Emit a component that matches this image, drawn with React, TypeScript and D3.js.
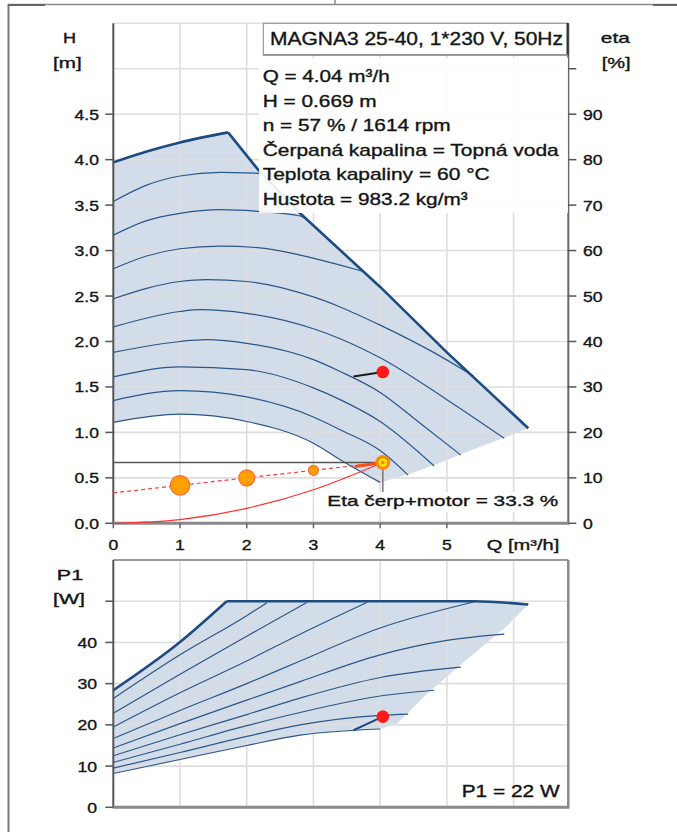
import React from "react";
import * as d3 from "d3";

const W = 677;
const H = 832;

// axis ticks
const qTicks = [0, 1, 2, 3, 4, 5];
const qGrid = [1, 2, 3, 4, 5, 6];
const headTicks = [0, 0.5, 1, 1.5, 2, 2.5, 3, 3.5, 4, 4.5];
const headGrid = [0.5, 1, 1.5, 2, 2.5, 3, 3.5, 4, 4.5, 5, 5.5];
const etaTicks = [0, 10, 20, 30, 40, 50, 60, 70, 80, 90];
const etaMarks = [0, 10, 20, 30, 40, 50, 60, 70, 80, 90, 100];
const powerTicks = [0, 10, 20, 30, 40];
const powerGrid = [10, 20, 30, 40, 50];

// Q-H: maximum curve (speed part and power-limited part)
const maxHeadRise: [number, number][] = [[0, 3.97], [0.5, 4.09], [1, 4.19], [1.72, 4.3]];
const maxHeadLimit: [number, number][] = [[1.72, 4.3], [2.17, 3.89], [2.8, 3.41], [4.0, 2.6], [5.0, 1.88], [6.22, 1.045]];

// Q-H: reduced speed curves
const head1: [number, number][] = [[0, 3.54], [0.5, 3.72], [1, 3.82], [1.6, 3.86], [2.2, 3.85]];
const head2: [number, number][] = [[0, 3.17], [0.5, 3.33], [1, 3.41], [1.6, 3.45], [2.2, 3.43], [2.8, 3.38], [2.92, 3.33]];
const head3: [number, number][] = [[0, 2.8], [0.5, 2.94], [1, 3.02], [1.6, 3.05], [2.2, 3.03], [2.8, 2.95], [3.4, 2.84], [3.75, 2.77]];
const head4: [number, number][] = [[0, 2.47], [1, 2.66], [1.4, 2.68], [2, 2.66], [3, 2.49], [3.4, 2.38], [4, 2.18], [4.8, 1.88], [5.4, 1.62]];
const head5: [number, number][] = [[0, 2.16], [1, 2.33], [1.3, 2.35], [2, 2.31], [3, 2.14], [3.4, 2.03], [4, 1.82], [5, 1.36], [5.86, 0.935]];
const head6: [number, number][] = [[0, 1.88], [1, 2.0], [1.4, 2.02], [2, 1.98], [3, 1.8], [3.4, 1.67], [4, 1.44], [4.6, 1.1], [5.21, 0.75]];
const head7: [number, number][] = [[0, 1.61], [1, 1.72], [2, 1.69], [3, 1.49], [3.4, 1.36], [4, 1.12], [4.81, 0.63]];
const head8: [number, number][] = [[0, 1.35], [1, 1.46], [2, 1.39], [3, 1.17], [3.4, 1.03], [4, 0.8], [4.42, 0.53]];
const head9: [number, number][] = [[0, 1.11], [1, 1.2], [2, 1.12], [3, 0.88], [3.4, 0.7], [4, 0.45]];
const headEdge: [number, number][] = [[6.22, 1.045], [5.86, 0.94], [5.21, 0.76], [4.81, 0.64], [4.42, 0.54], [4.0, 0.45]];

// P1: maximum curve and reduced speed curves
const maxPowerRise: [number, number][] = [[0, 28.4], [1, 40.1], [1.7, 50]];
const maxPowerLimit: [number, number][] = [[1.7, 50], [5.4, 50], [6.22, 49.2]];
const power1: [number, number][] = [[0, 26.4], [1, 37], [2, 46.5], [2.3, 49.6]];
const power2: [number, number][] = [[0, 22.8], [1, 32.3], [2, 41.5], [2.9, 49.7]];
const power3: [number, number][] = [[0, 19.5], [1, 27.8], [2, 35.5], [2.8, 42], [3.8, 49.7]];
const power4: [number, number][] = [[0, 16.7], [1, 23.5], [2, 30], [2.8, 35.5], [4, 43.5], [5.4, 49.8]];
const power5: [number, number][] = [[0, 14.4], [1, 20.3], [2, 26], [2.8, 30.5], [4, 37], [5, 40.5], [5.86, 42]];
const power6: [number, number][] = [[0, 12.5], [1, 17.6], [2, 22.5], [2.8, 26.5], [4, 31.5], [5.21, 34]];
const power7: [number, number][] = [[0, 10.9], [1, 15.3], [2, 19.8], [2.8, 23], [4, 27], [4.81, 28.4]];
const power8: [number, number][] = [[0, 9.5], [1, 13.3], [2, 17.2], [2.8, 20], [4, 22.3], [4.42, 22.6]];
const power9: [number, number][] = [[0, 8.2], [1, 11.6], [2, 15], [2.8, 17.5], [4, 19]];
const powerEdge: [number, number][] = [[6.22, 49.2], [5.9, 44], [5.2, 34.5], [4.7, 27.5], [4.25, 20.3], [4.0, 19]];

// duty point and control/system curves
const dutyQ = 4.04;
const dutyH = 0.669;
const dutyEta = 33.3;
const dutyP1 = 22;
const controlCurve: [number, number][] = [[0, 0.3345], [dutyQ, dutyH]];
const controlDots = [{ q: 1, h: 0.417, r: 9.8 }, { q: 2, h: 0.5, r: 8 }, { q: 3, h: 0.583, r: 5 }];
const systemCurve: [number, number][] = [[0, 0], [1, 0.041], [2, 0.164], [3, 0.369], [dutyQ, dutyH]];
const dutyHeadSegment: [number, number][] = [[3.62, 0.625], [dutyQ, dutyH]];
const etaSegment: [number, number][] = [[3.6, 32.3], [dutyQ, dutyEta]];
const powerSegment: [number, number][] = [[3.6, 18.7], [dutyQ, dutyP1]];

const infoLines = [
  { text: "Q = 4.04 m³/h", w: 127 },
  { text: "H = 0.669 m", w: 114 },
  { text: "n = 57 % / 1614 rpm", w: 188 },
  { text: "Čerpaná kapalina = Topná voda", w: 296 },
  { text: "Teplota kapaliny = 60 °C", w: 227 },
  { text: "Hustota = 983.2 kg/m³", w: 205 },
];

const headCurves = [head1, head2, head3, head4, head5, head6, head7, head8, head9];
const powerCurves = [power1, power2, power3, power4, power5, power6, power7, power8, power9];

const FONT = "'Liberation Sans', Arial, sans-serif";
const INK = "#141414";
const FILL = "#d3dde9";
const CURVE = "#2a568a";
const MAXC = "#1d4c82";
const GRID = "#dedede";

function Txt(props: { x: number; y: number; w?: number; size?: number; anchor?: string; children: string }) {
  const { x, y, w, size = 14.5, anchor = "start", children } = props;
  return (
    <text
      x={x}
      y={y}
      fontSize={size}
      fontFamily={FONT}
      fill={INK}
      stroke={INK}
      strokeWidth={0.35}
      textAnchor={anchor as any}
      textLength={w}
      lengthAdjust={w ? "spacingAndGlyphs" : undefined}
    >
      {children}
    </text>
  );
}

// stretched Arial-like digits for tick labels
function labelWidth(s: string) {
  let w = 0;
  for (const c of s) w += c === "." ? 4.8 : 9.8;
  return w;
}

export default function App() {
  const x = d3.scaleLinear().domain([0, 6.82]).range([113.3, 568.3]);
  const yH = d3.scaleLinear().domain([0, 5.5]).range([523.3, 23.3]);
  const yEta = d3.scaleLinear().domain([0, 110]).range([523.3, 23.3]);
  const yP = d3.scaleLinear().domain([0, 60]).range([807.3, 560]);

  const smoothH = d3.line<[number, number]>().x((d) => x(d[0])).y((d) => yH(d[1])).curve(d3.curveMonotoneX);
  const straightH = d3.line<[number, number]>().x((d) => x(d[0])).y((d) => yH(d[1]));
  const smoothP = d3.line<[number, number]>().x((d) => x(d[0])).y((d) => yP(d[1])).curve(d3.curveMonotoneX);
  const straightP = d3.line<[number, number]>().x((d) => x(d[0])).y((d) => yP(d[1]));
  const lineEta = d3.line<[number, number]>().x((d) => x(d[0])).y((d) => yEta(d[1]));

  // shaded operating areas
  const headArea =
    (smoothH(maxHeadRise) as string) +
    (straightH(maxHeadLimit.slice(1)) as string).replace(/^M/, "L") +
    (smoothH(headEdge.slice(1)) as string).replace(/^M/, "L") +
    (smoothH(head9.slice().reverse() as [number, number][]) as string).replace(/^M/, "L") +
    "Z";
  const powerArea =
    (smoothP(maxPowerRise) as string) +
    (straightP(maxPowerLimit.slice(1)) as string).replace(/^M/, "L") +
    (straightP(powerEdge.slice(1)) as string).replace(/^M/, "L") +
    (smoothP(power9.slice().reverse() as [number, number][]) as string).replace(/^M/, "L") +
    "Z";

  const xL = x(0);
  const xR = x(6.82);

  return (
    <svg width={W} height={H} style={{ position: "absolute", left: 0, top: 0, background: "#fff" }}>
      {/* page frame */}
      <line x1={8.5} y1={4} x2={8.5} y2={832} stroke="#7a7a7a" strokeWidth={2} />
      <line x1={8} y1={4.5} x2={677} y2={4.5} stroke="#8a8a8a" strokeWidth={1.5} />
      <line x1={335} y1={0} x2={335} y2={4.5} stroke="#8a8a8a" strokeWidth={1.5} />
      <line x1={8} y1={5} x2={45} y2={5} stroke="#666" strokeWidth={2} />
      <line x1={653} y1={5} x2={677} y2={5} stroke="#666" strokeWidth={2} />

      {/* ---------- Q-H chart ---------- */}
      <path d={headArea} fill={FILL} />
      {qGrid.map((q) => (
        <line key={"vg" + q} x1={x(q)} x2={x(q)} y1={yH(5.5)} y2={yH(0)} stroke={GRID} strokeWidth={1.6} />
      ))}
      {headGrid.map((h) => (
        <line key={"hg" + h} x1={xL} x2={xR} y1={yH(h)} y2={yH(h)} stroke={GRID} strokeWidth={1.6} />
      ))}
      {headCurves.map((c, i) => (
        <path key={"hc" + i} d={smoothH(c) as string} fill="none" stroke={CURVE} strokeWidth={1.2} />
      ))}
      <path d={smoothH(maxHeadRise) as string} fill="none" stroke={MAXC} strokeWidth={2.6} />
      <path d={straightH(maxHeadLimit) as string} fill="none" stroke={MAXC} strokeWidth={2.6} />

      {/* axes */}
      <line x1={xL} x2={xL} y1={yH(5.5)} y2={yH(0) + 1} stroke="#555" strokeWidth={2} />
      <line x1={xR} x2={xR} y1={yH(5.5)} y2={yH(0) + 1} stroke="#666" strokeWidth={2} />
      <line x1={xL} x2={xR + 1} y1={yH(0)} y2={yH(0)} stroke="#8a8a8a" strokeWidth={3} />
      {headTicks.map((h) => (
        <g key={"ht" + h}>
          <line x1={xL - 8} x2={xL} y1={yH(h)} y2={yH(h)} stroke="#555" strokeWidth={1.5} />
          <Txt x={99} y={yH(h) + 5.5} anchor="end" w={labelWidth(h.toFixed(1))}>{h.toFixed(1)}</Txt>
        </g>
      ))}
      {etaMarks.map((e) => (
        <line key={"em" + e} x1={xR} x2={xR + 8} y1={yEta(e)} y2={yEta(e)} stroke="#555" strokeWidth={1.5} />
      ))}
      {etaTicks.map((e) => (
        <Txt key={"et" + e} x={583} y={yEta(e) + 5.5} w={labelWidth(String(e))}>{String(e)}</Txt>
      ))}
      {qTicks.map((q) => (
        <g key={"qt" + q}>
          <line x1={x(q)} x2={x(q)} y1={yH(0)} y2={yH(0) + 5} stroke="#666" strokeWidth={1.5} />
          <Txt x={x(q)} y={550} anchor="middle" w={labelWidth(String(q))}>{String(q)}</Txt>
        </g>
      ))}
      <Txt x={69.5} y={43} anchor="middle" w={13}>H</Txt>
      <Txt x={67.3} y={68} anchor="middle" w={28.7}>[m]</Txt>
      <Txt x={615.3} y={43} anchor="middle" w={29}>eta</Txt>
      <Txt x={616.2} y={68} anchor="middle" w={29}>[%]</Txt>
      <Txt x={486.7} y={550} w={72.6}>Q [m³/h]</Txt>

      {/* control curve, system curve and duty point */}
      <line x1={xL} x2={x(dutyQ)} y1={yH(dutyH)} y2={yH(dutyH)} stroke="#555" strokeWidth={1.5} />
      <line x1={x(dutyQ)} x2={x(dutyQ)} y1={yH(dutyH)} y2={yH(0.33)} stroke="#777" strokeWidth={1.5} />
      <path d={smoothH(systemCurve) as string} fill="none" stroke="#ff3030" strokeWidth={1.2} />
      <path d={straightH(controlCurve) as string} fill="none" stroke="#ff3b3b" strokeWidth={1.2} strokeDasharray="4 3" />
      <path d={straightH(dutyHeadSegment) as string} fill="none" stroke="#ff4a1a" strokeWidth={3} />
      {controlDots.map((d) => (
        <circle key={"cd" + d.q} cx={x(d.q)} cy={yH(d.h)} r={d.r} fill="#ffa000" stroke="#ff6a3a" strokeWidth={1.2} />
      ))}
      <circle cx={x(dutyQ)} cy={yH(dutyH)} r={7.5} fill="#ff8c1a" />
      <circle cx={x(dutyQ)} cy={yH(dutyH)} r={5} fill="#ffe600" stroke="#ff6a00" strokeWidth={1} />
      <circle cx={x(dutyQ)} cy={yH(dutyH)} r={1.8} fill="#ff7a00" />
      <path d={lineEta(etaSegment) as string} fill="none" stroke="#1b1b1b" strokeWidth={2} />
      <circle cx={x(dutyQ)} cy={yEta(dutyEta)} r={6.3} fill="#ff1a1a" />
      <rect x={326} y={492} width={240} height={20} fill="#fff" opacity={0.9} />
      <Txt x={327.3} y={506} w={231}>{`Eta čerp+motor = ${dutyEta} %`}</Txt>

      {/* information panel */}
      <rect x={259} y={58} width={309} height={155} fill="#fff" opacity={0.9} />
      {infoLines.map((l, i) => (
        <Txt key={"il" + i} x={262.7} y={82 + i * 24.6} size={17} w={l.w}>{l.text}</Txt>
      ))}
      <rect x={263.3} y={23.3} width={304} height={31.5} fill="#fff" stroke="#9a9a9a" strokeWidth={1.2} />
      <line x1={567.6} x2={567.6} y1={23} y2={55} stroke="#333" strokeWidth={2} />
      <line x1={263} x2={568} y1={55} y2={55} stroke="#888" strokeWidth={1.5} />
      <Txt x={270} y={45} size={18} w={293}>MAGNA3 25-40, 1*230 V, 50Hz</Txt>

      {/* ---------- P1 chart ---------- */}
      <path d={powerArea} fill={FILL} />
      {qGrid.map((q) => (
        <line key={"pvg" + q} x1={x(q)} x2={x(q)} y1={yP(60)} y2={yP(0)} stroke={GRID} strokeWidth={1.6} />
      ))}
      {powerGrid.map((p) => (
        <line key={"phg" + p} x1={xL} x2={xR} y1={yP(p)} y2={yP(p)} stroke={GRID} strokeWidth={1.6} />
      ))}
      {powerCurves.map((c, i) => (
        <path key={"pc" + i} d={smoothP(c) as string} fill="none" stroke={CURVE} strokeWidth={1.2} />
      ))}
      <path d={smoothP(maxPowerRise) as string} fill="none" stroke={MAXC} strokeWidth={2.6} />
      <path d={smoothP(maxPowerLimit) as string} fill="none" stroke={MAXC} strokeWidth={2.6} />
      <path d={straightP(powerSegment) as string} fill="none" stroke={MAXC} strokeWidth={2} />
      <circle cx={x(dutyQ)} cy={yP(dutyP1)} r={6.3} fill="#ff1a1a" />

      <line x1={xL} x2={xR} y1={yP(60)} y2={yP(60)} stroke="#9a9a9a" strokeWidth={2} />
      <line x1={xR} x2={xR} y1={yP(60)} y2={yP(0)} stroke="#8a8a8a" strokeWidth={2.5} />
      <line x1={xL} x2={xL} y1={yP(60)} y2={yP(0) + 1} stroke="#555" strokeWidth={2} />
      <line x1={xL} x2={xR + 1} y1={yP(0)} y2={yP(0)} stroke="#8a8a8a" strokeWidth={3} />
      {powerTicks.map((p) => (
        <g key={"pt" + p}>
          <line x1={xL - 8} x2={xL} y1={yP(p)} y2={yP(p)} stroke="#555" strokeWidth={1.5} />
          <Txt x={97} y={yP(p) + 5.5} anchor="end" w={labelWidth(String(p))}>{String(p)}</Txt>
        </g>
      ))}
      <line x1={xL - 8} x2={xL} y1={yP(50)} y2={yP(50)} stroke="#555" strokeWidth={1.5} />
      <Txt x={70} y={580} anchor="middle" w={26.3}>P1</Txt>
      <Txt x={69} y={604} anchor="middle" w={32}>[W]</Txt>
      <Txt x={461.7} y={797} size={17} w={98}>{`P1 = ${dutyP1} W`}</Txt>
    </svg>
  );
}
